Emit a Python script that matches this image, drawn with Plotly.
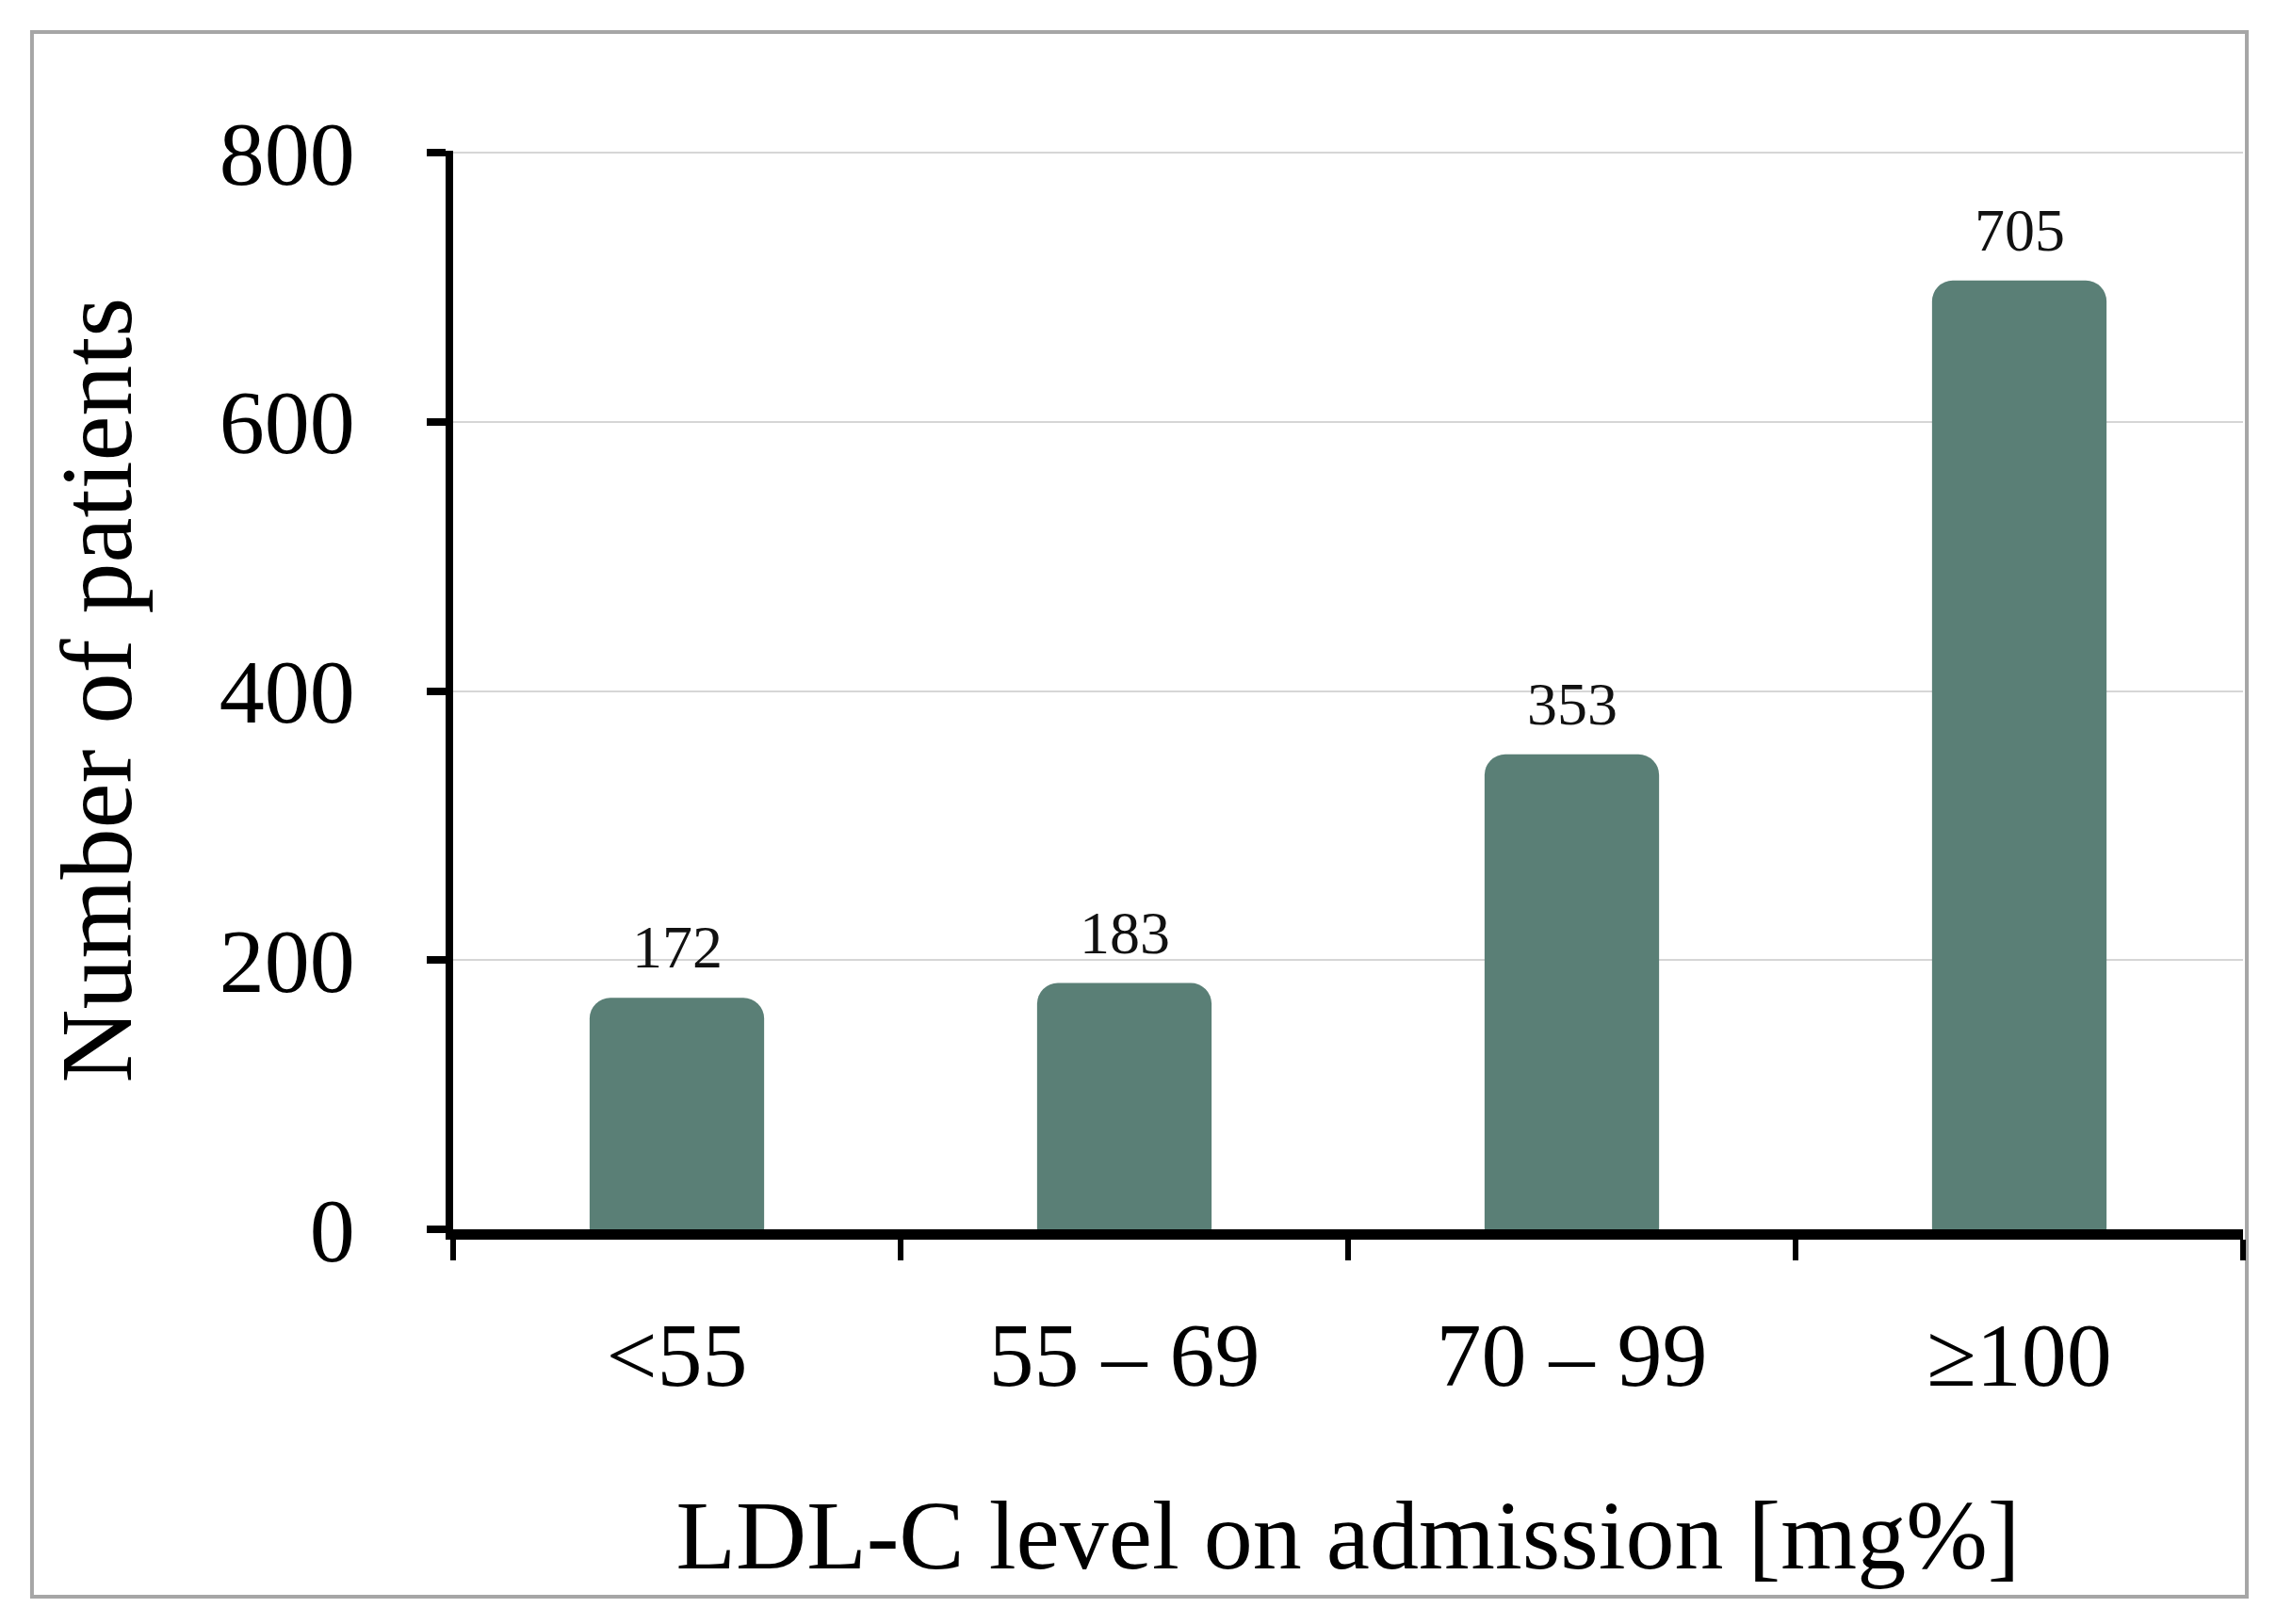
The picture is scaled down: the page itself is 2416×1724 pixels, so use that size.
import plotly.graph_objects as go

categories = ["<55", "55 – 69", "70 – 99", "≥100"]
patients = [172, 183, 353, 705]
y_ticks = [0, 200, 400, 600, 800]

FONT = "Liberation Serif"
BAR_COLOR = "#5a7f76"

fig = go.Figure()
fig.add_trace(go.Bar(
    x=categories, y=patients, width=0.39,
    marker=dict(color=BAR_COLOR, line=dict(width=0), cornerradius=22),
    hoverinfo="x+y", showlegend=False,
))

for c, v in zip(categories, patients):
    fig.add_annotation(x=c, y=v, text=str(v), showarrow=False, yanchor="bottom",
                       yshift=16, font=dict(family=FONT, size=64, color="#111111"))

fig.update_layout(
    width=2416, height=1724,
    margin=dict(l=473, r=43, t=152, b=427),
    paper_bgcolor="white", plot_bgcolor="white",
    font=dict(family=FONT, color="black"),
    bargap=0.61,
    xaxis=dict(
        type="category", range=[-0.5, 3.5],
        showline=True, linecolor="black", linewidth=11,
        ticks="outside", tickson="boundaries", ticklen=22, tickwidth=6, tickcolor="black",
        tickfont=dict(family=FONT, size=96, color="black"),
        ticklabelstandoff=40,
        showgrid=False, zeroline=False,
        title=dict(text="LDL-C level on admission [mg%]", font=dict(family=FONT, size=104, color="black"),
                   standoff=105),
    ),
    yaxis=dict(
        range=[0, 801.5], tickvals=y_ticks,
        showline=True, linecolor="black", linewidth=8,
        ticks="outside", ticklen=20, tickwidth=8, tickcolor="black",
        tickfont=dict(family=FONT, size=96, color="black"),
        ticklabelstandoff=57,
        showgrid=True, gridcolor="#d6d6d6", gridwidth=2,
        zeroline=False,
        title=dict(text="Number of patients", font=dict(family=FONT, size=108, color="black"),
                   standoff=60),
    ),
    shapes=[dict(type="rect", xref="paper", yref="paper",
                 x0=-0.2353, x1=1.0021, y0=-0.3406, y1=1.110,
                 line=dict(color="#a6a6a6", width=4), fillcolor="rgba(0,0,0,0)", layer="below")],
)

fig.write_html("out.html")
